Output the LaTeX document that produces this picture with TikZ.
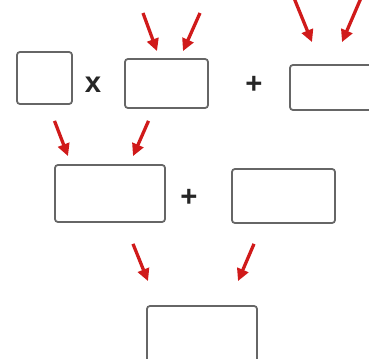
\documentclass[tikz,border=0pt]{standalone}
\usepackage{fontspec}
\usepackage{xcolor}
\usepackage{tikz}
\usetikzlibrary{arrows.meta,calc}
\newfontfamily\signfont{Liberation Sans}
\definecolor{ArrowRed}{HTML}{D01A1A}
\definecolor{BoxGray}{HTML}{666666}
\definecolor{SignGray}{HTML}{262626}

\begin{document}
\begin{tikzpicture}[x=0.03cm,y=-0.03cm,>={Triangle[length=10.5pt,width=10pt]},
  blankbox/.style={draw=BoxGray,line width=1.5pt,rounded corners=2.5pt,fill=white,inner sep=0pt},
  redarrow/.style={->,line width=2.8pt,ArrowRed},
  opsign/.style={text=SignGray,font=\signfont\bfseries\fontsize{25}{25}\selectfont,inner sep=0pt}]
  \useasboundingbox (0,0) rectangle (369,358);
  \clip (0,0) rectangle (369,358);

  % Primera fila: las casillas de la expresión.
  \node[blankbox,minimum width=1.65cm,minimum height=1.56cm] (A) at (44.5,78) {};
  \node[opsign] (times) at (93,85) {x};
  \node[blankbox,minimum width=2.49cm,minimum height=1.47cm] (B) at (166.5,83.5) {};
  \node[opsign] (plusA) at (254,85) {+};
  \node[blankbox,minimum width=2.64cm,minimum height=1.35cm] (C) at (334,87.5) {};

  % Segunda fila.
  \node[blankbox,minimum width=3.3cm,minimum height=1.71cm] (D) at (110,193.5) {};
  \node[opsign] (plusB) at (189,198) {+};
  \node[blankbox,minimum width=3.09cm,minimum height=1.62cm] (E) at (283.5,196) {};

  % Resultado.
  \node[blankbox,minimum width=3.3cm,minimum height=1.68cm] (F) at (202,334) {};

  % Flechas.
  \coordinate (inB1) at (143,13);
  \coordinate (inB2) at (200,13);
  \coordinate (inC1) at (294,-2);
  \coordinate (inC2) at (361,-2);
  \draw[redarrow] (inB1) -- ($(B.north)+(-9.5,-7)$);
  \draw[redarrow] (inB2) -- ($(B.north)+(16.5,-7)$);
  \draw[redarrow] (inC1) -- ($(C.north)+(-22,-22)$);
  \draw[redarrow] (inC2) -- ($(C.north)+(8,-22)$);
  \draw[redarrow] ($(A.south)+(10,16)$) -- ($(D.north)+(-42,-8)$);
  \draw[redarrow] ($(B.south)+(-18,12)$) -- ($(D.north)+(23,-8)$);
  \draw[redarrow] ($(D.south)+(23,21)$) -- ($(F.north)+(-54,-24)$);
  \draw[redarrow] ($(E.south)+(-29.5,20)$) -- ($(F.north)+(36,-24)$);
\end{tikzpicture}
\end{document}
